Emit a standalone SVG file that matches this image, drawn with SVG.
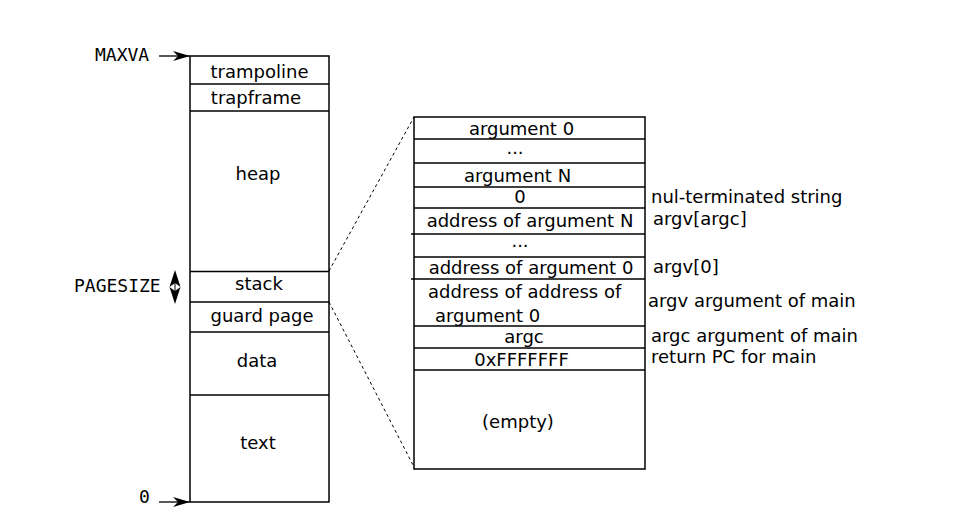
<svg xmlns="http://www.w3.org/2000/svg" width="963" height="524" viewBox="0 0 963 524">
<defs>
<style>
.t{font-family:"DejaVu Sans","Liberation Sans",sans-serif;font-size:18px;fill:#000}
.m{font-family:"DejaVu Sans Mono","Liberation Mono",monospace;font-size:18px;fill:#000}
.c{text-anchor:middle}
.box{fill:#fff;stroke:#000;stroke-width:1.5}
.div{stroke:#000;stroke-width:1.3;fill:none}
.dot{stroke:#000;stroke-width:1;stroke-dasharray:3,3;fill:none}
.arr{stroke:#000;stroke-width:1.3;fill:none}
</style>
<marker id="ah" markerWidth="17" markerHeight="10" refX="17" refY="5" orient="auto" markerUnits="userSpaceOnUse">
<path d="M0,0 L17,5 L0,10 L5,5 Z" fill="#000"/>
</marker>
</defs>
<rect width="963" height="524" fill="#fff"/>

<g id="address-space">
<rect class="box" x="190" y="56" width="139" height="446"/>
<line class="div" x1="190" y1="84" x2="329" y2="84"/>
<line class="div" x1="190" y1="111" x2="329" y2="111"/>
<line class="div" x1="190" y1="271.5" x2="329" y2="271.5"/>
<line class="div" x1="190" y1="302" x2="329" y2="302"/>
<line class="div" x1="190" y1="332" x2="329" y2="332"/>
<line class="div" x1="190" y1="395" x2="329" y2="395"/>
<text class="t c" x="259.5" y="78">trampoline</text>
<text class="t c" x="256" y="104">trapframe</text>
<text class="t c" x="258" y="180">heap</text>
<text class="t c" x="259" y="290">stack</text>
<text class="t c" x="262" y="322">guard page</text>
<text class="t c" x="257" y="367">data</text>
<text class="t c" x="258" y="449">text</text>
</g>

<g id="labels-left">
<text class="m" x="95" y="61">MAXVA</text>
<text class="m" x="74" y="292">PAGESIZE</text>
<text class="m" x="139" y="503">0</text>
</g>

<g id="stack-detail">
<rect class="box" x="414" y="117" width="231" height="352"/>
<line class="div" x1="414" y1="139" x2="645" y2="139"/>
<line class="div" x1="414" y1="163" x2="645" y2="163"/>
<line class="div" x1="414" y1="187" x2="645" y2="187"/>
<line class="div" x1="414" y1="208" x2="645" y2="208"/>
<line class="div" x1="411" y1="234" x2="645" y2="234"/>
<line class="div" x1="414" y1="257" x2="645" y2="257"/>
<line class="div" x1="411" y1="279" x2="645" y2="279"/>
<line class="div" x1="414" y1="326" x2="645" y2="326"/>
<line class="div" x1="414" y1="348" x2="645" y2="348"/>
<line class="div" x1="414" y1="370" x2="645" y2="370"/>
<text class="t c" x="521.5" y="135">argument 0</text>
<text class="t c" x="515" y="154">...</text>
<text class="t c" x="517.5" y="182">argument N</text>
<text class="t c" x="520" y="203">0</text>
<text class="t c" x="530" y="227">address of argument N</text>
<text class="t c" x="520" y="247">...</text>
<text class="t c" x="531" y="274">address of argument 0</text>
<text class="t" x="428" y="298">address of address of</text>
<text class="t" x="435" y="322">argument 0</text>
<text class="t c" x="524" y="343">argc</text>
<text class="t c" x="521.5" y="366">0xFFFFFFF</text>
<text class="t c" x="518" y="428">(empty)</text>
</g>

<g id="labels-right">
<text class="t" x="651" y="203">nul-terminated string</text>
<text class="t" x="653" y="225">argv[argc]</text>
<text class="t" x="653" y="273">argv[0]</text>
<text class="t" x="648" y="307">argv argument of main</text>
<text class="t" x="651" y="342">argc argument of main</text>
<text class="t" x="651" y="363">return PC for main</text>
</g>

<g id="connectors">
<line class="arr" x1="159" y1="56" x2="190" y2="56" marker-end="url(#ah)"/>
<line class="arr" x1="159" y1="502" x2="190" y2="502" marker-end="url(#ah)"/>
<line x1="175" y1="283" x2="175" y2="291" stroke="#000" stroke-width="1"/>
<path d="M175,270 L180.5,287 L175,283 L169.5,287 Z" fill="#000"/>
<path d="M175,304 L180.5,287 L175,291 L169.5,287 Z" fill="#000"/>
<line class="dot" x1="329" y1="271" x2="414" y2="117"/>
<line class="dot" x1="329" y1="302" x2="414" y2="467"/>
</g>
</svg>
